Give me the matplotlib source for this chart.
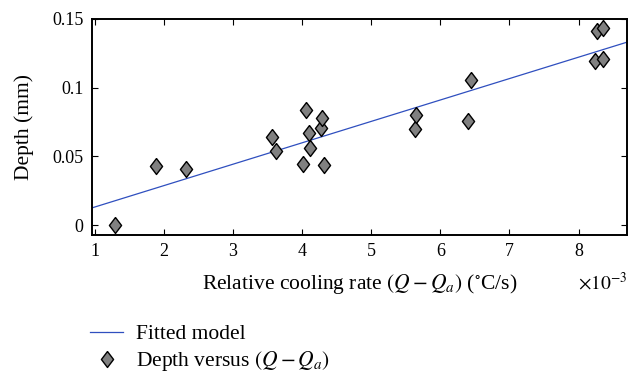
import matplotlib
matplotlib.use("Agg")
import matplotlib.pyplot as plt

plt.rcParams['font.family'] = ['Liberation Serif', 'DejaVu Serif']
plt.rcParams['mathtext.fontset'] = 'stix'

# Data (x in units of 1e-3 degC/s)
cool_rate = [1.30, 1.89, 2.32, 3.57, 3.62, 4.02, 4.06, 4.10, 4.12, 4.28, 4.29, 4.32,
             5.63, 5.65, 6.40, 6.44, 8.24, 8.26, 8.35, 8.36]
depth = [0.0003, 0.0428, 0.0409, 0.0639, 0.0537, 0.0448, 0.0840, 0.0670, 0.0564, 0.0707, 0.0777, 0.0435,
         0.0700, 0.0798, 0.0755, 0.1055, 0.1195, 0.1413, 0.1432, 0.1210]
fit_x = [0.96, 8.70]
fit_y = [0.0125, 0.1331]

xticks = [1, 2, 3, 4, 5, 6, 7, 8]
yticks = [0, 0.05, 0.1, 0.15]
ytick_labels = ['0', '0.05', '0.1', '0.15']

fig = plt.figure(figsize=(6.43, 3.72), dpi=100)
ax = fig.add_axes([0.143, 0.368, 0.832, 0.581])

diamond = [(0, 1), (0.76, 0), (0, -1), (-0.76, 0), (0, 1)]

ax.plot(fit_x, fit_y, color='#2f4fbf', lw=0.9, label='Fitted model')
ax.plot(cool_rate, depth, linestyle='none', marker=diamond, ms=11.5,
        markerfacecolor='#808080', markeredgecolor='black', markeredgewidth=1.0,
        label=r'Depth versus $(Q - Q_a)$')

ax.set_xlim(0.96, 8.70)
ax.set_ylim(-0.0073, 0.15)
ax.set_xticks(xticks)
ax.set_xticklabels([str(t) for t in xticks])
ax.set_yticks(yticks)
ax.set_yticklabels(ytick_labels)
ax.tick_params(direction='in', top=True, right=True, length=4, width=0.8,
               labelsize=13, pad=6)
for s in ax.spines.values():
    s.set_linewidth(1.4)

ax.set_xlabel(r'Relative cooling rate $(Q - Q_a)$ ($^{\circ}$C/s)', fontsize=15.5, labelpad=8)
ax.set_ylabel('Depth (mm)', fontsize=15.5, labelpad=13)
fig.text(627/643, 1 - 283/372, r'$\times 10^{-3}$', ha='right', va='center', fontsize=14)

handles, labels = ax.get_legend_handles_labels()
fig.legend(handles, labels, loc='upper left', bbox_to_anchor=(90/643, 1 - 324/372),
           frameon=False, fontsize=15.5, handlelength=1.55, handletextpad=0.6,
           labelspacing=0.25, borderaxespad=0, borderpad=0)

fig.savefig('out.png', dpi=100)
